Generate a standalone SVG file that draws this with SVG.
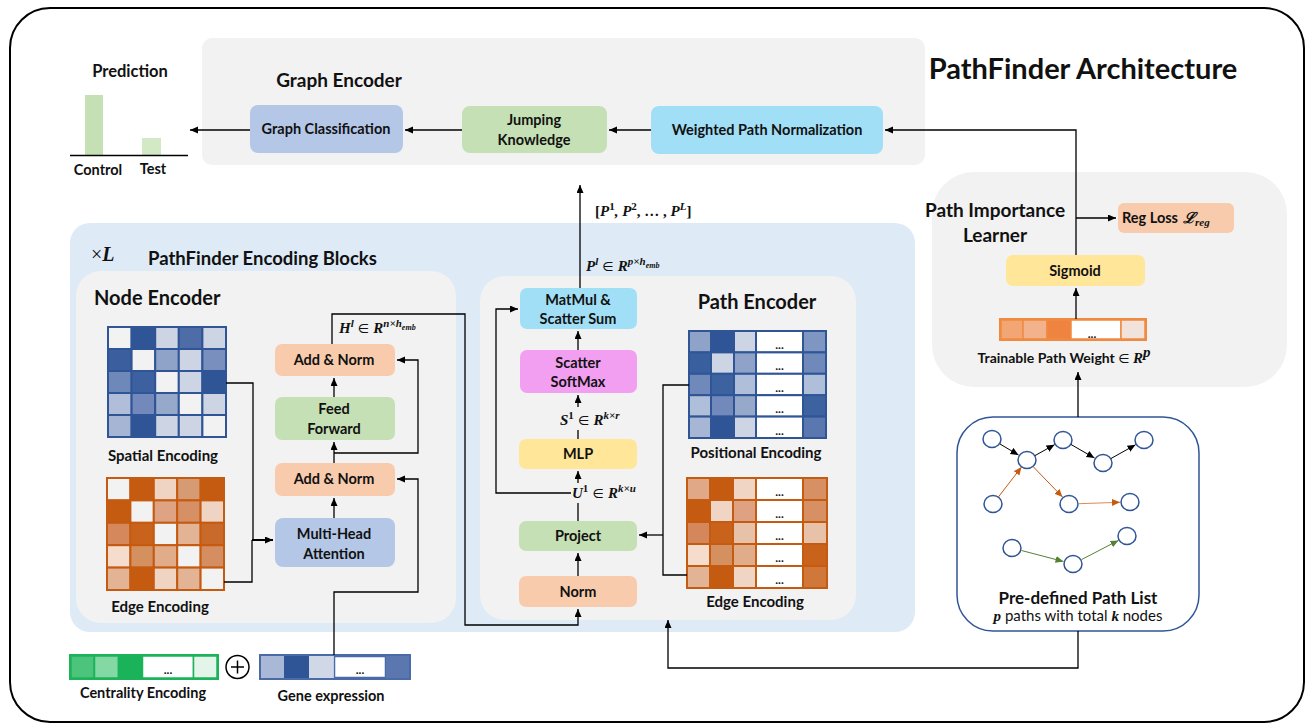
<svg xmlns="http://www.w3.org/2000/svg" width="1306" height="728" viewBox="0 0 1306 728">
<style>
.t{font-family:Lato,"Open Sans","Liberation Sans",sans-serif;font-weight:bold;fill:#111;}
.b13{font-size:14.5px;text-anchor:middle;}
.h17{font-size:19px;}
.m{font-family:"Liberation Serif","DejaVu Serif",serif;font-style:italic;font-weight:bold;fill:#111;font-size:15px;}
.ln{fill:none;stroke:#000;stroke-width:1.3;}
.dots{font-family:Lato,"Liberation Sans",sans-serif;font-weight:bold;font-size:12px;text-anchor:middle;fill:#111;}
</style>
<defs>
<marker id="ar" markerUnits="userSpaceOnUse" markerWidth="9" markerHeight="8" refX="8" refY="3.5" orient="auto"><path d="M0,0 L8,3.5 L0,7 z" fill="#000"/></marker>
<marker id="ak" markerUnits="userSpaceOnUse" markerWidth="9" markerHeight="8" refX="8" refY="3.5" orient="auto"><path d="M0,0 L8,3.5 L0,7 z" fill="#000"/></marker>
<marker id="ao" markerUnits="userSpaceOnUse" markerWidth="9" markerHeight="8" refX="8" refY="3.5" orient="auto"><path d="M0,0 L8,3.5 L0,7 z" fill="#c55a11"/></marker>
<marker id="ag" markerUnits="userSpaceOnUse" markerWidth="9" markerHeight="8" refX="8" refY="3.5" orient="auto"><path d="M0,0 L8,3.5 L0,7 z" fill="#548235"/></marker>
</defs>
<rect x="0" y="0" width="1306" height="728" fill="#fff"/>
<!-- outer frame -->
<rect x="10" y="8" width="1294" height="714" rx="40" fill="#fff" stroke="#000" stroke-width="2"/>

<!-- title -->
<text x="1083" y="79" class="t" font-size="29" text-anchor="middle">PathFinder Architecture</text>

<!-- Prediction -->
<g id="prediction">
<text x="130" y="77" class="t" font-size="16.5" text-anchor="middle">Prediction</text>
<rect x="85" y="95" width="18" height="60" fill="#c5e0b4"/>
<rect x="142" y="138" width="19" height="17" fill="#d3e9c5"/>
<line x1="70" y1="155.5" x2="188" y2="155.5" stroke="#000" stroke-width="1.3"/>
<text x="98" y="175" class="t b13">Control</text>
<text x="153" y="174" class="t b13">Test</text>
</g>

<!-- Graph encoder -->
<g id="graph-encoder">
<rect x="202" y="38" width="723" height="127" rx="10" fill="#f2f2f2"/>
<text x="339" y="87" class="t h17" text-anchor="middle">Graph Encoder</text>
</g>
<g id="graph-classification">
<rect x="250" y="105" width="153" height="48" rx="8" fill="#b4c7e7"/>
<text x="326" y="134" class="t b13">Graph Classification</text>
</g>
<g id="jumping-knowledge">
<rect x="462" y="106" width="145" height="47" rx="8" fill="#c5e0b4"/>
<text x="534" y="125" class="t b13">Jumping</text>
<text x="534" y="145" class="t b13">Knowledge</text>
</g>
<g id="weighted-path-normalization">
<rect x="651" y="106" width="232" height="48" rx="8" fill="#a1dff7"/>
<text x="767" y="135" class="t b13">Weighted Path Normalization</text>
</g>

<!-- Path importance learner -->
<g id="path-importance-learner">
<rect x="932" y="172" width="355" height="215" rx="42" fill="#f2f2f2"/>
<text x="995" y="217" class="t h17" text-anchor="middle">Path Importance</text>
<text x="995" y="242" class="t h17" text-anchor="middle">Learner</text>
</g>
<g id="reg-loss">
<rect x="1118" y="203" width="116" height="30" rx="6" fill="#f8cbad"/>
<text x="1150" y="223" class="t" font-size="14.5" text-anchor="middle">Reg Loss</text>
<text x="1183" y="223" class="m" font-size="15" font-weight="normal">ℒ<tspan font-size="11" dy="3">reg</tspan></text>
</g>
<g id="sigmoid">
<rect x="1006" y="255" width="139" height="31" rx="7" fill="#ffe699"/>
<text x="1075" y="276" class="t b13">Sigmoid</text>
</g>
<g id="trainable-path-weight">
<rect x="1000" y="319" width="146" height="21" fill="#fff" stroke="#f08a40" stroke-width="2"/>
<rect x="1001" y="320" width="22" height="19" fill="#f2a673" stroke="#f08a40" stroke-width="1.5"/>
<rect x="1023" y="320" width="24" height="19" fill="#f2b38c" stroke="#f08a40" stroke-width="1.5"/>
<rect x="1047" y="320" width="24" height="19" fill="#ee8440" stroke="#f08a40" stroke-width="1.5"/>
<rect x="1071" y="320" width="50" height="19" fill="#fff" stroke="#f08a40" stroke-width="1.5"/>
<rect x="1121" y="320" width="24" height="19" fill="#f1e3dc" stroke="#f08a40" stroke-width="1.5"/>
<text x="1092" y="338" class="dots">...</text>
<text x="1064" y="363" class="t" font-size="14" text-anchor="middle">Trainable Path Weight <tspan font-family="DejaVu Sans,sans-serif" font-weight="normal" font-size="13">∈</tspan> <tspan class="m" font-size="16">R</tspan><tspan class="m" font-size="11" dy="-6">p</tspan></text>
</g>

<!-- Path list -->
<g id="path-list">
<rect x="957" y="417" width="242" height="214" rx="36" fill="#fff" stroke="#2f5597" stroke-width="1.5"/>
<g fill="#fff" stroke="#2f5597" stroke-width="1.5">
<ellipse cx="992" cy="439" rx="9" ry="8.5"/>
<ellipse cx="1027" cy="460" rx="9" ry="8.5"/>
<ellipse cx="1063" cy="440" rx="9" ry="8.5"/>
<ellipse cx="1103" cy="463" rx="9" ry="8.5"/>
<ellipse cx="1144" cy="440" rx="9" ry="8.5"/>
<ellipse cx="993" cy="504" rx="9" ry="8.5"/>
<ellipse cx="1069" cy="504" rx="9" ry="8.5"/>
<ellipse cx="1130" cy="502" rx="9" ry="8.5"/>
<ellipse cx="1012" cy="548" rx="9" ry="8.5"/>
<ellipse cx="1073" cy="564" rx="9" ry="8.5"/>
<ellipse cx="1127" cy="536" rx="9" ry="8.5"/>
</g>
<g stroke-width="1">
<line x1="1000" y1="444" x2="1018.5" y2="455" stroke="#000" marker-end="url(#ak)"/>
<line x1="1035" y1="455.6" x2="1054.5" y2="444.7" stroke="#000" marker-end="url(#ak)"/>
<line x1="1071" y1="444.5" x2="1094.5" y2="458" stroke="#000" marker-end="url(#ak)"/>
<line x1="1111" y1="458.5" x2="1135.5" y2="444.8" stroke="#000" marker-end="url(#ak)"/>
<line x1="998" y1="497.5" x2="1021.5" y2="467" stroke="#c55a11" marker-end="url(#ao)"/>
<line x1="1033" y1="466.5" x2="1062.5" y2="497" stroke="#c55a11" marker-end="url(#ao)"/>
<line x1="1079" y1="503.7" x2="1120" y2="502.3" stroke="#e08a50" marker-end="url(#ao)"/>
<line x1="1021.5" y1="550.5" x2="1063.5" y2="561.5" stroke="#548235" marker-end="url(#ag)"/>
<line x1="1081.5" y1="559.6" x2="1118.5" y2="540.4" stroke="#548235" marker-end="url(#ag)"/>
</g>
<text x="1078" y="604" class="t" font-size="17" text-anchor="middle">Pre-defined Path List</text>
<text x="1078" y="621" font-family="Lato,'Liberation Sans',sans-serif" font-size="15" text-anchor="middle" fill="#111"><tspan class="m" font-size="16">p</tspan> paths with total <tspan class="m" font-size="16">k</tspan> nodes</text>
</g>

<!-- Encoding blocks panel -->
<g id="encoding-blocks">
<rect x="70" y="223" width="845" height="409" rx="20" fill="#deebf7"/>
<text x="91" y="261" font-family="'Liberation Serif',serif" font-size="20" fill="#111">×<tspan font-style="italic" font-weight="bold">L</tspan></text>
<text x="148" y="265" class="t" font-size="18.5">PathFinder Encoding Blocks</text>
</g>

<!-- Node encoder -->
<g id="node-encoder">
<rect x="76" y="271" width="380" height="352" rx="25" fill="#f2f2f2"/>
<text x="94" y="305" class="t" font-size="20">Node Encoder</text>
</g>
<g id="spatial-encoding" stroke="#2f5597" stroke-width="2">
<rect x="108" y="327" width="23.6" height="22" fill="#f2f2f2"/><rect x="131.6" y="327" width="23.6" height="22" fill="#2f5597"/><rect x="155.2" y="327" width="23.6" height="22" fill="#cdd5e5"/><rect x="178.8" y="327" width="23.6" height="22" fill="#4e6da7"/><rect x="202.4" y="327" width="23.6" height="22" fill="#cdd5e5"/>
<rect x="108" y="349" width="23.6" height="22" fill="#3a5e9e"/><rect x="131.6" y="349" width="23.6" height="22" fill="#f2f2f2"/><rect x="155.2" y="349" width="23.6" height="22" fill="#8fa2c8"/><rect x="178.8" y="349" width="23.6" height="22" fill="#cdd5e5"/><rect x="202.4" y="349" width="23.6" height="22" fill="#7990be"/>
<rect x="108" y="371" width="23.6" height="22" fill="#6e88ba"/><rect x="131.6" y="371" width="23.6" height="22" fill="#3d61a0"/><rect x="155.2" y="371" width="23.6" height="22" fill="#f2f2f2"/><rect x="178.8" y="371" width="23.6" height="22" fill="#cdd5e5"/><rect x="202.4" y="371" width="23.6" height="22" fill="#2f5597"/>
<rect x="108" y="393" width="23.6" height="22" fill="#b0bed9"/><rect x="131.6" y="393" width="23.6" height="22" fill="#7389bc"/><rect x="155.2" y="393" width="23.6" height="22" fill="#97a9cb"/><rect x="178.8" y="393" width="23.6" height="22" fill="#f2f2f2"/><rect x="202.4" y="393" width="23.6" height="22" fill="#cdd5e5"/>
<rect x="108" y="415" width="23.6" height="22" fill="#a6b5d3"/><rect x="131.6" y="415" width="23.6" height="22" fill="#2f5597"/><rect x="155.2" y="415" width="23.6" height="22" fill="#cdd5e5"/><rect x="178.8" y="415" width="23.6" height="22" fill="#cdd5e5"/><rect x="202.4" y="415" width="23.6" height="22" fill="#f2f2f2"/>
</g>
<text x="163" y="461" class="t" font-size="15" text-anchor="middle">Spatial Encoding</text>
<g id="edge-encoding-node" stroke="#c55a11" stroke-width="2">
<rect x="107" y="478" width="23.4" height="22.4" fill="#f2f2f2"/><rect x="130.4" y="478" width="23.4" height="22.4" fill="#c55a11"/><rect x="153.8" y="478" width="23.4" height="22.4" fill="#efd4c3"/><rect x="177.2" y="478" width="23.4" height="22.4" fill="#d69b73"/><rect x="200.6" y="478" width="23.4" height="22.4" fill="#c55a11"/>
<rect x="107" y="500.4" width="23.4" height="22.4" fill="#c55a11"/><rect x="130.4" y="500.4" width="23.4" height="22.4" fill="#f2f2f2"/><rect x="153.8" y="500.4" width="23.4" height="22.4" fill="#dea383"/><rect x="177.2" y="500.4" width="23.4" height="22.4" fill="#d79065"/><rect x="200.6" y="500.4" width="23.4" height="22.4" fill="#efd4c3"/>
<rect x="107" y="522.8" width="23.4" height="22.4" fill="#d4885b"/><rect x="130.4" y="522.8" width="23.4" height="22.4" fill="#c9621b"/><rect x="153.8" y="522.8" width="23.4" height="22.4" fill="#f2f2f2"/><rect x="177.2" y="522.8" width="23.4" height="22.4" fill="#e2b394"/><rect x="200.6" y="522.8" width="23.4" height="22.4" fill="#ca6a2a"/>
<rect x="107" y="545.2" width="23.4" height="22.4" fill="#f5dccc"/><rect x="130.4" y="545.2" width="23.4" height="22.4" fill="#d4905f"/><rect x="153.8" y="545.2" width="23.4" height="22.4" fill="#e0ac8a"/><rect x="177.2" y="545.2" width="23.4" height="22.4" fill="#f2f2f2"/><rect x="200.6" y="545.2" width="23.4" height="22.4" fill="#d58d62"/>
<rect x="107" y="567.6" width="23.4" height="22.4" fill="#e2b394"/><rect x="130.4" y="567.6" width="23.4" height="22.4" fill="#c55a11"/><rect x="153.8" y="567.6" width="23.4" height="22.4" fill="#efd4c3"/><rect x="177.2" y="567.6" width="23.4" height="22.4" fill="#e2b394"/><rect x="200.6" y="567.6" width="23.4" height="22.4" fill="#f2f2f2"/>
</g>
<text x="160" y="612" class="t" font-size="15" text-anchor="middle">Edge Encoding</text>

<g id="add-norm-2">
<rect x="275" y="344" width="120" height="32" rx="7" fill="#f8cbad"/>
<text x="334" y="365" class="t b13">Add &amp; Norm</text>
</g>
<g id="feed-forward">
<rect x="275" y="397" width="120" height="43" rx="7" fill="#c5e0b4"/>
<text x="334" y="414" class="t b13">Feed</text>
<text x="334" y="434" class="t b13">Forward</text>
</g>
<g id="add-norm-1">
<rect x="275" y="463" width="120" height="33" rx="7" fill="#f8cbad"/>
<text x="334" y="484" class="t b13">Add &amp; Norm</text>
</g>
<g id="multi-head-attention">
<rect x="275" y="518" width="120" height="49" rx="8" fill="#b4c7e7"/>
<text x="334" y="539" class="t b13">Multi-Head</text>
<text x="334" y="559" class="t b13">Attention</text>
</g>
<text x="339" y="333" class="m">H<tspan font-size="11" dy="-6">l</tspan><tspan dy="6" font-style="normal" font-weight="normal" font-family="DejaVu Sans,sans-serif" font-size="13"> ∈ </tspan>R<tspan font-size="11" dy="-6">n×h</tspan><tspan font-size="8" dy="3">emb</tspan></text>

<!-- Path encoder -->
<g id="path-encoder">
<rect x="480" y="276" width="376" height="344" rx="25" fill="#f2f2f2"/>
<text x="757" y="309" class="t" font-size="20" text-anchor="middle">Path Encoder</text>
</g>
<g id="matmul-scatter-sum">
<rect x="520" y="288" width="117" height="41" rx="7" fill="#a1dff7"/>
<text x="578" y="305" class="t b13">MatMul &amp;</text>
<text x="578" y="324" class="t b13">Scatter Sum</text>
</g>
<g id="scatter-softmax">
<rect x="520" y="350" width="117" height="43" rx="7" fill="#f29ff2"/>
<text x="578" y="368" class="t b13">Scatter</text>
<text x="578" y="387" class="t b13">SoftMax</text>
</g>
<g id="mlp">
<rect x="519" y="439" width="118" height="30" rx="7" fill="#ffe699"/>
<text x="578" y="459" class="t b13">MLP</text>
</g>
<g id="project">
<rect x="519" y="521" width="118" height="30" rx="7" fill="#c5e0b4"/>
<text x="578" y="541" class="t b13">Project</text>
</g>
<g id="norm">
<rect x="519" y="576" width="118" height="31" rx="7" fill="#f8cbad"/>
<text x="578" y="597" class="t b13">Norm</text>
</g>
<g id="positional-encoding" stroke="#2f5597" stroke-width="2">
<rect x="689" y="331" width="22" height="21.4" fill="#8fa3c8"/><rect x="711" y="331" width="23" height="21.4" fill="#2f5597"/><rect x="734" y="331" width="22" height="21.4" fill="#cdd5e5"/><rect x="756" y="331" width="47" height="21.4" fill="#fff"/><rect x="803" y="331" width="23" height="21.4" fill="#7f96c2"/>
<rect x="689" y="352.4" width="22" height="21.4" fill="#3a5f9f"/><rect x="711" y="352.4" width="23" height="21.4" fill="#cdd5e5"/><rect x="734" y="352.4" width="22" height="21.4" fill="#8fa3c8"/><rect x="756" y="352.4" width="47" height="21.4" fill="#fff"/><rect x="803" y="352.4" width="23" height="21.4" fill="#6f89bb"/>
<rect x="689" y="373.8" width="22" height="21.4" fill="#6f89bb"/><rect x="711" y="373.8" width="23" height="21.4" fill="#3d62a0"/><rect x="734" y="373.8" width="22" height="21.4" fill="#b0bfd9"/><rect x="756" y="373.8" width="47" height="21.4" fill="#fff"/><rect x="803" y="373.8" width="23" height="21.4" fill="#b0bfd9"/>
<rect x="689" y="395.2" width="22" height="21.4" fill="#b0bfd9"/><rect x="711" y="395.2" width="23" height="21.4" fill="#7289bc"/><rect x="734" y="395.2" width="22" height="21.4" fill="#97a9cb"/><rect x="756" y="395.2" width="47" height="21.4" fill="#fff"/><rect x="803" y="395.2" width="23" height="21.4" fill="#3d62a0"/>
<rect x="689" y="416.6" width="22" height="21.4" fill="#a6b6d4"/><rect x="711" y="416.6" width="23" height="21.4" fill="#2f5597"/><rect x="734" y="416.6" width="22" height="21.4" fill="#cdd5e5"/><rect x="756" y="416.6" width="47" height="21.4" fill="#fff"/><rect x="803" y="416.6" width="23" height="21.4" fill="#5a77b0"/>
</g>
<g>
<text x="779.5" y="349" class="dots">...</text><text x="779.5" y="370" class="dots">...</text><text x="779.5" y="392" class="dots">...</text><text x="779.5" y="413" class="dots">...</text><text x="779.5" y="435" class="dots">...</text>
</g>
<text x="756" y="458" class="t" font-size="15" text-anchor="middle">Positional Encoding</text>
<g id="edge-encoding-path" stroke="#c55a11" stroke-width="2">
<rect x="687" y="478" width="23" height="22" fill="#e0a887"/><rect x="710" y="478" width="23" height="22" fill="#c55a11"/><rect x="733" y="478" width="23" height="22" fill="#f0d5c5"/><rect x="756" y="478" width="47" height="22" fill="#fff"/><rect x="803" y="478" width="24" height="22" fill="#d69064"/>
<rect x="687" y="500" width="23" height="22" fill="#c55a11"/><rect x="710" y="500" width="23" height="22" fill="#f0d5c5"/><rect x="733" y="500" width="23" height="22" fill="#dea283"/><rect x="756" y="500" width="47" height="22" fill="#fff"/><rect x="803" y="500" width="24" height="22" fill="#d69064"/>
<rect x="687" y="522" width="23" height="22" fill="#d4875a"/><rect x="710" y="522" width="23" height="22" fill="#c9621b"/><rect x="733" y="522" width="23" height="22" fill="#e8c2a8"/><rect x="756" y="522" width="47" height="22" fill="#fff"/><rect x="803" y="522" width="24" height="22" fill="#e8c2a8"/>
<rect x="687" y="544" width="23" height="22" fill="#f5dccc"/><rect x="710" y="544" width="23" height="22" fill="#d4905f"/><rect x="733" y="544" width="23" height="22" fill="#e0ac8a"/><rect x="756" y="544" width="47" height="22" fill="#fff"/><rect x="803" y="544" width="24" height="22" fill="#c9621b"/>
<rect x="687" y="566" width="23" height="22" fill="#e2b394"/><rect x="710" y="566" width="23" height="22" fill="#c55a11"/><rect x="733" y="566" width="23" height="22" fill="#f0d5c5"/><rect x="756" y="566" width="47" height="22" fill="#fff"/><rect x="803" y="566" width="24" height="22" fill="#d0773a"/>
</g>
<g>
<text x="779.5" y="496" class="dots">...</text><text x="779.5" y="518" class="dots">...</text><text x="779.5" y="540" class="dots">...</text><text x="779.5" y="562" class="dots">...</text><text x="779.5" y="584" class="dots">...</text>
</g>
<text x="755" y="607" class="t" font-size="15" text-anchor="middle">Edge Encoding</text>

<!-- math labels in path encoder -->
<text x="586" y="271" class="m">P<tspan font-size="11" dy="-6">l</tspan><tspan dy="6" font-style="normal" font-weight="normal" font-family="DejaVu Sans,sans-serif" font-size="13"> ∈ </tspan>R<tspan font-size="11" dy="-6">p×h</tspan><tspan font-size="8" dy="3">emb</tspan></text>
<text x="595" y="216" class="m" font-weight="normal"><tspan font-style="normal">[</tspan><tspan font-weight="bold">P</tspan><tspan font-size="11" dy="-6" font-weight="bold" font-style="normal">1</tspan><tspan dy="6">, </tspan><tspan font-weight="bold">P</tspan><tspan font-size="11" dy="-6" font-weight="bold" font-style="normal">2</tspan><tspan dy="6" font-style="normal">, … , </tspan><tspan font-weight="bold">P</tspan><tspan font-size="11" dy="-6" font-weight="bold">L</tspan><tspan dy="6" font-style="normal">]</tspan></text>
<text x="560" y="425" class="m">S<tspan font-size="11" dy="-6" font-style="normal">1</tspan><tspan dy="6" font-style="normal" font-weight="normal" font-family="DejaVu Sans,sans-serif" font-size="13"> ∈ </tspan>R<tspan font-size="11" dy="-6">k×r</tspan></text>
<text x="572" y="498" class="m">U<tspan font-size="11" dy="-6" font-style="normal">1</tspan><tspan dy="6" font-style="normal" font-weight="normal" font-family="DejaVu Sans,sans-serif" font-size="13"> ∈ </tspan>R<tspan font-size="11" dy="-6">k×u</tspan></text>

<!-- Bottom inputs -->
<g id="centrality-encoding" stroke="#1db35a" stroke-width="1.5">
<rect x="70" y="655" width="148" height="24" fill="#fff" stroke-width="2"/>
<rect x="71" y="656" width="23" height="22" fill="#4cc47c"/>
<rect x="94.5" y="656" width="24" height="22" fill="#84d8a4"/>
<rect x="118.5" y="656" width="24" height="22" fill="#1ab359"/>
<rect x="142.5" y="656" width="51" height="22" fill="#fff"/>
<rect x="193.5" y="656" width="23.5" height="22" fill="#e3f5e9"/>
</g>
<text x="168" y="674" class="dots">...</text>
<text x="143" y="698" class="t" font-size="14.5" text-anchor="middle">Centrality Encoding</text>
<g id="plus">
<circle cx="237.5" cy="667" r="11.5" fill="#fff" stroke="#000" stroke-width="1.5"/>
<line x1="231" y1="667" x2="244" y2="667" stroke="#000" stroke-width="1.5"/>
<line x1="237.5" y1="660.5" x2="237.5" y2="673.5" stroke="#000" stroke-width="1.5"/>
</g>
<g id="gene-expression" stroke="#2f5597" stroke-width="1.5">
<rect x="260" y="655" width="150" height="24" fill="#fff" stroke="#4a6aa8" stroke-width="2"/>
<rect x="261" y="656" width="23" height="22" fill="#a9b8d6" stroke="none"/>
<rect x="284" y="656" width="25" height="22" fill="#2f5597" stroke="none"/>
<rect x="309" y="656" width="24.5" height="22" fill="#d0d8e8" stroke="none"/>
<rect x="334.5" y="656.5" width="51" height="21" fill="#fff" stroke="#4a6aa8"/>
<rect x="386" y="656" width="23" height="22" fill="#5a77b0" stroke="none"/>
</g>
<text x="360" y="674" class="dots">...</text>
<text x="331" y="701" class="t" font-size="14.5" text-anchor="middle">Gene expression</text>

<!-- Connectors -->
<g id="connectors" class="ln">
<line x1="651" y1="130" x2="609" y2="130" marker-end="url(#ar)"/>
<line x1="462" y1="130" x2="405" y2="130" marker-end="url(#ar)"/>
<line x1="250" y1="130" x2="190" y2="130" marker-end="url(#ar)"/>
<polyline points="1076,255 1076,130 885,130" marker-end="url(#ar)"/>
<line x1="1076" y1="218" x2="1116" y2="218" marker-end="url(#ar)"/>
<line x1="1076" y1="319" x2="1076" y2="288" marker-end="url(#ar)"/>
<line x1="1078" y1="417" x2="1078" y2="372" marker-end="url(#ar)"/>
<polyline points="1078,631 1078,668 668,668 668,620" marker-end="url(#ar)"/>
<polyline points="226,383 253,383 253,540"/>
<polyline points="224,582 252,582 252,540"/>
<line x1="252" y1="540" x2="273" y2="540" stroke-width="2" marker-end="url(#ar)"/>
<line x1="334" y1="518" x2="334" y2="498" marker-end="url(#ar)"/>
<line x1="334" y1="463" x2="334" y2="442" marker-end="url(#ar)"/>
<line x1="334" y1="397" x2="334" y2="378" marker-end="url(#ar)"/>
<polyline points="334,453 418,453 418,360 397,360" marker-end="url(#ar)"/>
<polyline points="334,655 334,592 418,592 418,479 397,479" marker-end="url(#ar)"/>
<polyline points="332,344 332,314 465,314 465,625 578,625 578,609" marker-end="url(#ar)"/>
<line x1="578" y1="576" x2="578" y2="553" marker-end="url(#ar)"/>
<line x1="578" y1="521" x2="578" y2="503"/>
<line x1="578" y1="483" x2="578" y2="471" marker-end="url(#ar)"/>
<line x1="578" y1="439" x2="578" y2="430"/>
<line x1="578" y1="407" x2="578" y2="395" marker-end="url(#ar)"/>
<line x1="578" y1="350" x2="578" y2="331" marker-end="url(#ar)"/>
<polyline points="571,493 496,493 496,309 518,309" marker-end="url(#ar)"/>
<line x1="580" y1="288" x2="580" y2="185" marker-end="url(#ar)"/>
<polyline points="689,385 663,385 663,575 687,575"/>
<line x1="663" y1="535" x2="639" y2="535" marker-end="url(#ar)"/>
</g>
</svg>
